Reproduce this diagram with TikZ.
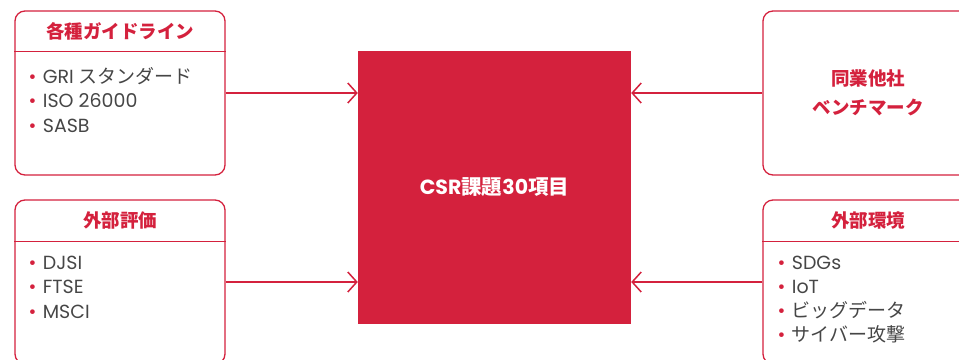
\documentclass[tikz,border=0pt]{standalone}
\usepackage{fontspec}
\setmainfont{Noto Sans CJK JP}
\newfontfamily\lt{Poppins}
\usetikzlibrary{arrows.meta}
\definecolor{crim}{HTML}{D4213D}
\definecolor{txt}{HTML}{464646}
\newcommand\bul{\textcolor{crim}{\lt •}\hspace{6.5pt}}
\begin{document}
\begin{tikzpicture}[x=1pt,y=-1pt,
  box/.style={draw=crim, line width=1.3pt, rounded corners=10pt, minimum width=210pt, minimum height=164pt, inner sep=0pt},
  sep/.style={draw=crim, line width=1.3pt},
  title/.style={text=crim, font=\fontsize{18.5}{29}\selectfont\bfseries, inner sep=0pt},
  item/.style={text=txt, font=\fontsize{19}{24.5}\selectfont, align=left, anchor=north west, inner sep=0pt},
  link/.style={draw=crim, line width=1.5pt, -{Straight Barb[length=9pt,width=20pt,line width=1.5pt]}}
]
\useasboundingbox (0,0) rectangle (959,359);
\clip (0,0) rectangle (959,359);
% boxes
\node[box] (gl) at (120,93) {};
\node[box] (ev) at (120,282) {};
\node[box] (bm) at (868,93) {};
\node[box] (env) at (868,282) {};
\node[fill=crim, minimum size=273pt, inner sep=0pt] (csr) at (494.5,187.5) {};
\node[text=white, font=\fontsize{20.5}{22}\selectfont\bfseries] (csrt) at (csr) {{\lt CSR}課題{\lt 30}項目};
% header separators
\draw[sep] ([yshift=-41pt]gl.north west) -- ([yshift=-41pt]gl.north east);
\draw[sep] ([yshift=-42pt]ev.north west) -- ([yshift=-42pt]ev.north east);
\draw[sep] ([yshift=-42pt]env.north west) -- ([yshift=-42pt]env.north east);
% titles
\node[title] (glt) at ([yshift=-21pt]gl.north) {各種ガイドライン};
\node[title] (evt) at ([yshift=-21pt]ev.north) {外部評価};
\node[title] (envt) at ([yshift=-21pt]env.north) {外部環境};
\node[title, align=center] (bmt) at (bm) {同業他社\\ベンチマーク};
% items
\node[item] (gli) at ([xshift=14pt,yshift=-56.5pt]gl.north west)
  {\bul{\lt GRI} スタンダード\\\bul{\lt ISO 26000}\\\bul{\lt SASB}};
\node[item] (evi) at ([xshift=14pt,yshift=-56.5pt]ev.north west)
  {\bul{\lt DJSI}\\\bul{\lt FTSE}\\\bul{\lt MSCI}};
\node[item, font=\fontsize{19}{24}\selectfont] (envi) at ([xshift=15pt,yshift=-56.5pt]env.north west)
  {\bul{\lt SDGs}\\\bul{\lt IoT}\\\bul ビッグデータ\\\bul サイバー攻撃};
% connectors
\draw[link] (gl.east) -- (csr.west |- gl.east);
\draw[link] (ev.east) -- (csr.west |- ev.east);
\draw[link] (bm.west) -- (csr.east |- bm.west);
\draw[link] (env.west) -- (csr.east |- env.west);
\end{tikzpicture}
\end{document}
